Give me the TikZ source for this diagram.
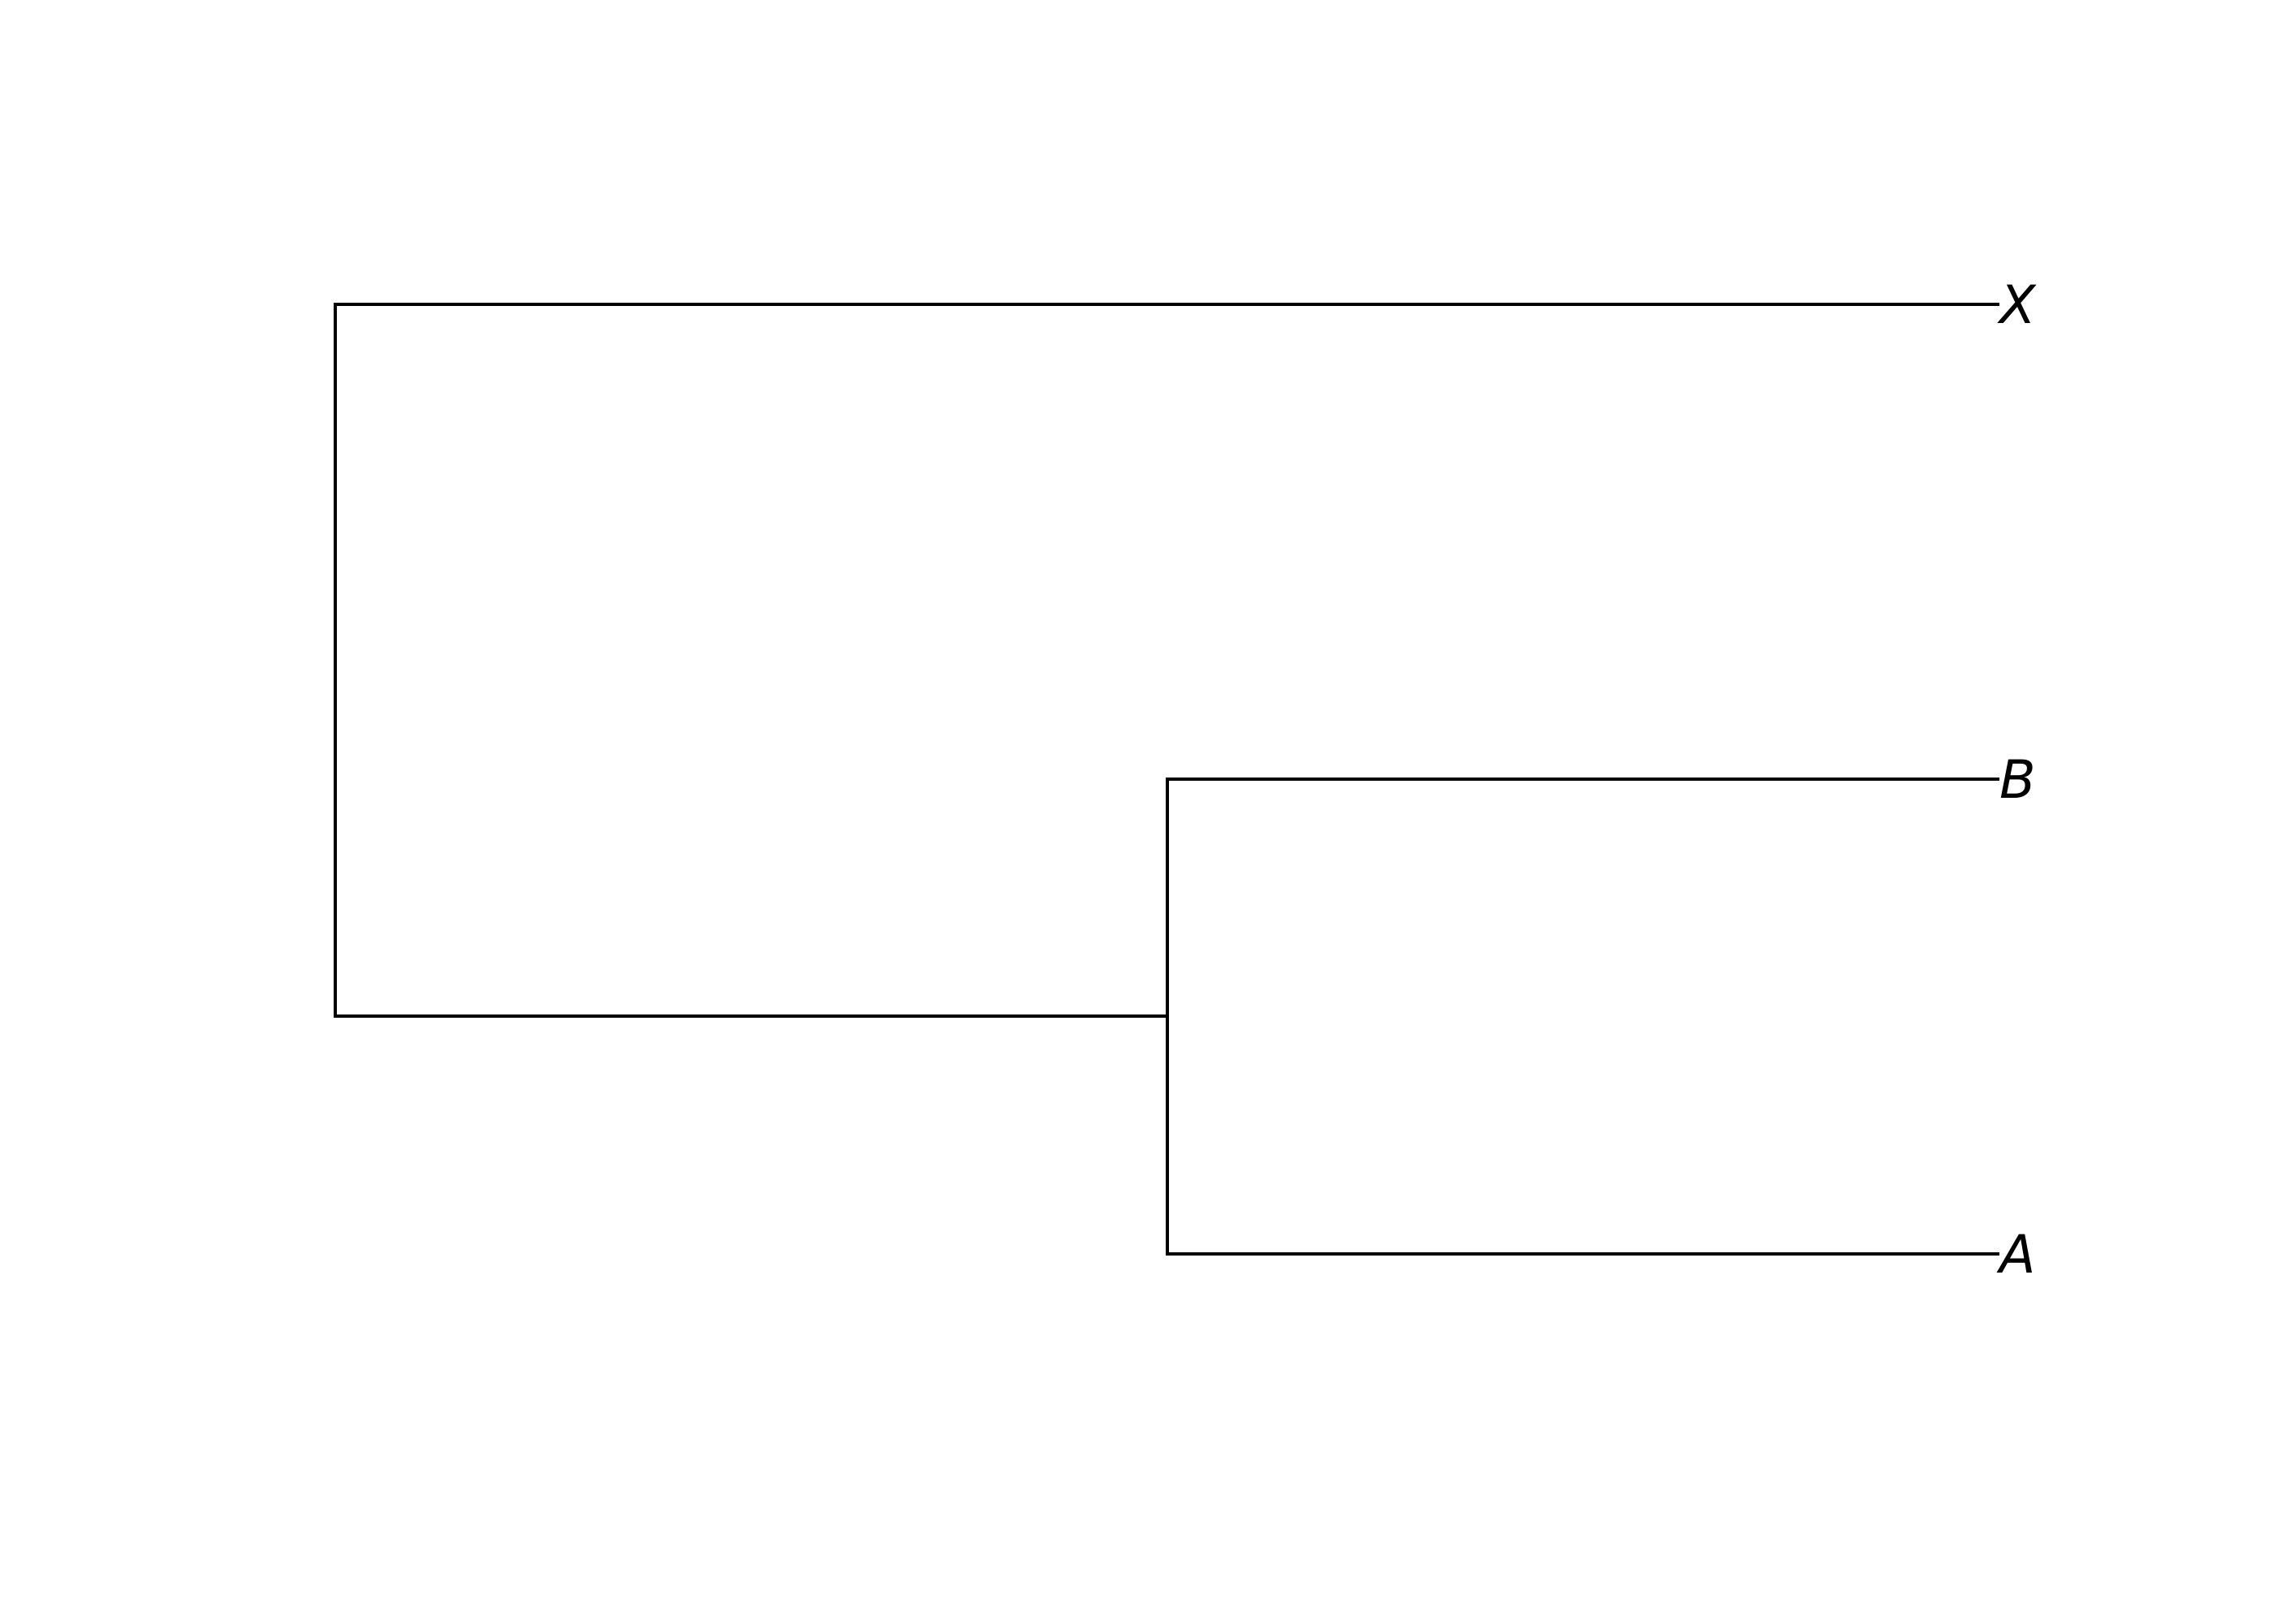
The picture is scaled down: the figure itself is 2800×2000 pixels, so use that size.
\documentclass[tikz,border=0pt]{standalone}
\usepackage{fontspec}
\setmainfont{DejaVu Sans}
\begin{document}
\begin{tikzpicture}[x=1pt,y=-1pt,
  branch/.style={line width=4pt, line join=miter, black},
  leaf/.style={anchor=west, inner sep=0pt, outer sep=0pt, font=\fontsize{65}{78}\selectfont\itshape}]
\fill[white] (0,0) rectangle (2800,2000);
\useasboundingbox (0,0) rectangle (2800,2000);
\node[leaf] (X) at (2463,375) {X};
\node[leaf] (B) at (2463,960) {B};
\node[leaf] (A) at (2463,1545) {A};
\coordinate (n0) at (413,1252);
\coordinate (n1) at (1438,1252);
\draw[branch] (X.west) -| (n0) -- (n1);
\draw[branch] (B.west) -| (n1) |- (A.west);
\end{tikzpicture}
\end{document}
